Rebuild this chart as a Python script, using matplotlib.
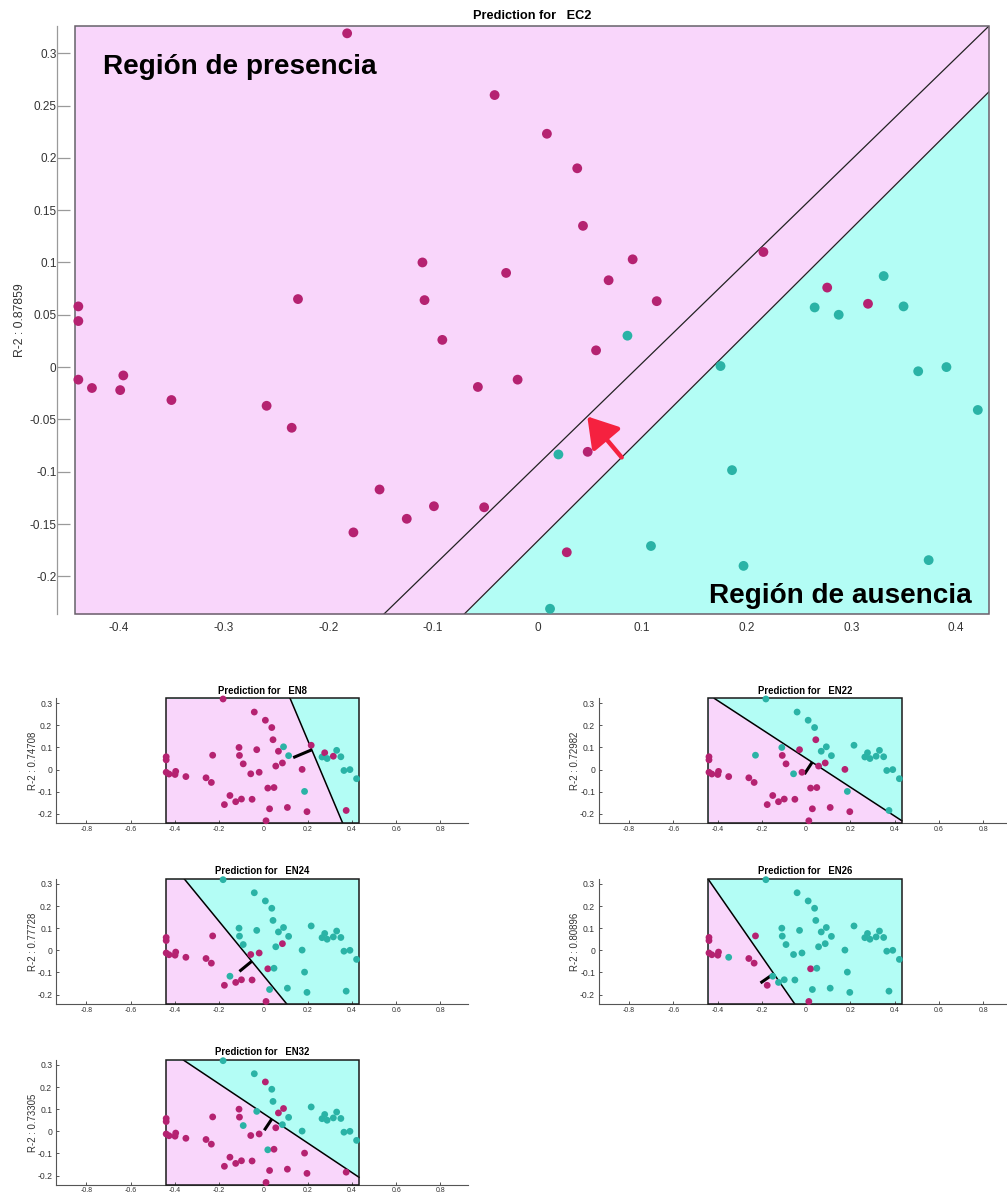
import numpy as np
import matplotlib
matplotlib.use("Agg")
import matplotlib.pyplot as plt
from matplotlib.patches import Rectangle

plt.rcParams['font.family'] = ['Liberation Sans', 'DejaVu Sans']

# Sample coordinates in the two-component space (shared by every model)
px = [-0.182, -0.041, 0.009, 0.038, 0.0435, -0.110, 0.091, 0.216, -0.030, 0.068,
      -0.229, -0.108, 0.114, -0.439, -0.439, 0.265, 0.277, 0.288, 0.316, 0.331,
      0.350, 0.086, -0.091, 0.056, 0.175, 0.364, 0.391, -0.439, -0.426, -0.396,
      -0.399, -0.350, -0.259, -0.235, -0.057, -0.019, 0.421, 0.020, 0.048, 0.186,
      -0.151, -0.099, -0.125, -0.051, -0.176, 0.028, 0.1085, 0.197, 0.374, 0.012]
py = [0.319, 0.260, 0.223, 0.190, 0.135, 0.100, 0.103, 0.110, 0.090, 0.083,
      0.065, 0.064, 0.063, 0.058, 0.044, 0.057, 0.076, 0.050, 0.0605, 0.087,
      0.058, 0.030, 0.026, 0.016, 0.001, -0.004, 0.000, -0.012, -0.020, -0.008,
      -0.022, -0.0315, -0.037, -0.058, -0.019, -0.012, -0.041, -0.0835, -0.081, -0.0985,
      -0.117, -0.133, -0.145, -0.134, -0.158, -0.177, -0.171, -0.190, -0.1845, -0.231]

# Observed class per sample (1 = presence, 0 = absence)
lab_EC2 = [1, 1, 1, 1, 1, 1, 1, 1, 1, 1,
           1, 1, 1, 1, 1, 0, 1, 0, 1, 0,
           0, 0, 1, 1, 0, 0, 0, 1, 1, 1,
           1, 1, 1, 1, 1, 1, 0, 0, 1, 0,
           1, 1, 1, 1, 1, 1, 0, 0, 0, 0]
lab_EN8 = [1, 1, 1, 1, 1, 1, 0, 1, 1, 1,
           1, 1, 0, 1, 1, 0, 1, 0, 1, 0,
           0, 1, 1, 1, 1, 0, 0, 1, 1, 1,
           1, 1, 1, 1, 1, 1, 0, 1, 1, 0,
           1, 1, 1, 1, 1, 1, 1, 1, 1, 1]
lab_EN22 = [0, 0, 0, 0, 1, 0, 0, 0, 1, 0,
            0, 1, 0, 1, 1, 0, 0, 0, 0, 0,
            0, 1, 1, 1, 1, 0, 0, 1, 1, 1,
            1, 1, 1, 1, 0, 1, 0, 1, 1, 0,
            1, 1, 1, 1, 1, 1, 1, 1, 0, 1]
lab_EN24 = [0, 0, 0, 0, 0, 0, 0, 0, 0, 0,
            1, 0, 0, 1, 1, 0, 0, 0, 0, 0,
            0, 1, 0, 0, 0, 0, 0, 1, 1, 1,
            1, 1, 1, 1, 1, 1, 0, 1, 0, 0,
            0, 1, 1, 1, 1, 0, 0, 0, 0, 1]
lab_EN26 = [0, 0, 0, 0, 0, 0, 0, 0, 0, 0,
            1, 0, 0, 1, 1, 0, 0, 0, 0, 0,
            0, 0, 0, 0, 0, 0, 0, 1, 1, 1,
            1, 0, 1, 1, 0, 0, 0, 1, 0, 0,
            0, 0, 0, 0, 1, 0, 0, 0, 0, 1]
lab_EN32 = [0, 0, 1, 0, 0, 1, 1, 0, 0, 1,
            1, 1, 0, 1, 1, 0, 0, 0, 0, 0,
            0, 0, 0, 1, 0, 0, 0, 1, 1, 1,
            1, 1, 1, 1, 1, 1, 0, 0, 1, 1,
            1, 1, 1, 1, 1, 1, 1, 1, 1, 1]

# EC2: margin line and decision line (y = m*x + c)
ec2_margin = (0.9715, -0.0934)
ec2_boundary = (0.995, -0.1664)
ec2_r2 = "0.87859"

# Small models: name, labels, R-2, boundary slope, intercept, normal foot x, normal length
small_names = ["EN8", "EN22", "EN24", "EN26", "EN32"]
small_labels = [lab_EN8, lab_EN22, lab_EN24, lab_EN26, lab_EN32]
small_r2 = ["0.74708", "0.72982", "0.77728", "0.80896", "0.73305"]
small_slope = [-2.372, -0.6526, -1.2205, -1.4414, -0.6676]
small_icpt = [0.608, 0.0509, -0.1135, -0.3167, 0.0808]
small_foot = [0.2186, 0.0271, -0.0524, -0.1463, 0.038]
small_len = [0.091, 0.064, 0.072, 0.073, 0.061]

main_yticks = [-0.2, -0.15, -0.1, -0.05, 0, 0.05, 0.1, 0.15, 0.2, 0.25, 0.3]
main_xticks = [-0.4, -0.3, -0.2, -0.1, 0, 0.1, 0.2, 0.3, 0.4]
small_yticks = [-0.2, -0.1, 0, 0.1, 0.2, 0.3]
small_xticks = [-0.8, -0.6, -0.4, -0.2, 0, 0.2, 0.4, 0.6, 0.8]

PINK = '#F9D6FB'
CYAN = '#B3FDF5'
MAG = '#B52271'
TEAL = '#2AB3A6'
W, H = 1007, 1201


def fmt(v):
    return f"{round(v, 3):g}"


def line_span(m, c, x0, x1, y0, y1):
    xa, xb = sorted(((y0 - c) / m, (y1 - c) / m))
    return max(xa, x0), min(xb, x1)


fig = plt.figure(figsize=(W / 100, H / 100), dpi=100)

# ---------------- EC2 ----------------
ax = fig.add_axes([75 / W, 1 - 614 / H, 914 / W, 588 / H])
bx0, bx1, by0, by1 = -0.4422, 0.4317, -0.236, 0.326
ax.set_xlim(bx0, bx1)
ax.set_ylim(by0, by1)
ax.add_patch(Rectangle((bx0, by0), bx1 - bx0, by1 - by0, facecolor=CYAN,
                       edgecolor='none', zorder=0))
xs = np.linspace(bx0, bx1, 400)
m, c = ec2_boundary
ax.fill_between(xs, np.clip(m * xs + c, by0, by1), by1, color=PINK, lw=0, zorder=0.5)
for m, c in (ec2_margin, ec2_boundary):
    xa, xb = line_span(m, c, bx0, bx1, by0, by1)
    ax.plot([xa, xb], [m * xa + c, m * xb + c], color='#222222', lw=0.9, zorder=2)
ax.add_patch(Rectangle((bx0, by0), bx1 - bx0, by1 - by0, facecolor='none',
                       edgecolor='#6a5f6a', lw=1.1, zorder=3, clip_on=False))
cols = [MAG if v else TEAL for v in lab_EC2]
ax.scatter(px, py, s=50, c=cols, linewidths=0, zorder=4, clip_on=False)

# arrow from the decision line to the margin line
tx, hx = 0.0805, 0.0476
mb, cb = ec2_boundary
mm, cm = ec2_margin
ax.annotate("", xy=(hx, mm * hx + cm), xytext=(tx, mb * tx + cb),
            arrowprops=dict(arrowstyle="-|>,head_length=0.45,head_width=0.28",
                            mutation_scale=40, lw=3.2, color='#F5213F',
                            shrinkA=0, shrinkB=0), zorder=5)

ax.text(0.0306, 0.9184, "Región de presencia", transform=ax.transAxes,
        fontsize=20.1, fontweight='bold', ha='left', va='baseline', zorder=6)
ax.text(0.981, 0.0192, "Región de ausencia", transform=ax.transAxes,
        fontsize=20.1, fontweight='bold', ha='right', va='baseline', zorder=6)

for s in ('top', 'right', 'bottom'):
    ax.spines[s].set_visible(False)
ax.spines['left'].set_position(('outward', 13))
ax.spines['left'].set_color('#9a9a9a')
ax.spines['left'].set_linewidth(0.9)
ax.set_yticks(main_yticks, [fmt(v) for v in main_yticks])
ax.set_xticks(main_xticks, [fmt(v) for v in main_xticks])
ax.tick_params(axis='y', direction='in', length=9.4, width=0.9, color='#9a9a9a',
               pad=0.3, labelsize=8.5, labelcolor='#333333')
ax.tick_params(axis='x', length=0, pad=6, labelsize=8.5, labelcolor='#333333')
ax.set_title("Prediction for   EC2", fontsize=9.2, fontweight='bold', pad=5)
ax.set_ylabel("R-2 : " + ec2_r2, fontsize=8.8, color='#333333')
ax.yaxis.set_label_coords(-0.0535, 0.5)

# ---------------- small models ----------------
small_pos = [(55.7, 823.3), (598.5, 823.3), (55.7, 1004.0), (598.5, 1004.0), (55.7, 1185.0)]
aw, ah = 412.6, 124.9
sx0, sx1, sy0, sy1 = -0.442, 0.432, -0.2425, 0.3215

for k, name in enumerate(small_names):
    left, bottom = small_pos[k]
    a = fig.add_axes([left / W, 1 - bottom / H, aw / W, ah / H])
    a.set_xlim(-0.938, -0.938 + aw / 221.4)
    a.set_ylim(sy0, sy0 + ah / 221.4)
    a.add_patch(Rectangle((sx0, sy0), sx1 - sx0, sy1 - sy0, facecolor=CYAN,
                          edgecolor='none', zorder=0))
    m, c = small_slope[k], small_icpt[k]
    xs = np.linspace(sx0, sx1, 400)
    a.fill_between(xs, sy0, np.clip(m * xs + c, sy0, sy1), color=PINK, lw=0, zorder=0.5)
    xa, xb = line_span(m, c, sx0, sx1, sy0, sy1)
    a.plot([xa, xb], [m * xa + c, m * xb + c], color='black', lw=1.1, zorder=2)
    # normal vector pointing into the presence side
    fx = small_foot[k]
    fy = m * fx + c
    nvec = np.array([m, -1.0]) / np.hypot(m, 1.0)
    ex, ey = fx + small_len[k] * nvec[0], fy + small_len[k] * nvec[1]
    a.plot([fx, ex], [fy, ey], color='black', lw=2.2, solid_capstyle='butt', zorder=2)
    a.add_patch(Rectangle((sx0, sy0), sx1 - sx0, sy1 - sy0, facecolor='none',
                          edgecolor='#1a1a1a', lw=1.1, zorder=3, clip_on=False))
    cols = [MAG if v else TEAL for v in small_labels[k]]
    a.scatter(px, py, s=24, c=cols, linewidths=0, zorder=4, clip_on=False)

    for s in ('top', 'right'):
        a.spines[s].set_visible(False)
    for s in ('left', 'bottom'):
        a.spines[s].set_color('#555555')
        a.spines[s].set_linewidth(0.8)
    a.set_yticks(small_yticks, [fmt(v) for v in small_yticks])
    a.set_xticks(small_xticks, [fmt(v) for v in small_xticks])
    a.tick_params(axis='both', direction='in', length=2.2, width=0.7, color='#555555',
                  labelcolor='#333333')
    a.tick_params(axis='y', pad=2.5, labelsize=6.2)
    a.tick_params(axis='x', pad=1.8, labelsize=5.0)
    a.set_title("Prediction for   " + name, fontsize=6.9, fontweight='bold', pad=3.5)
    a.set_ylabel("R-2 : " + small_r2[k], fontsize=6.9, color='#333333')
    a.yaxis.set_label_coords(-0.044, 0.5)

fig.savefig("out.png", dpi=100)
